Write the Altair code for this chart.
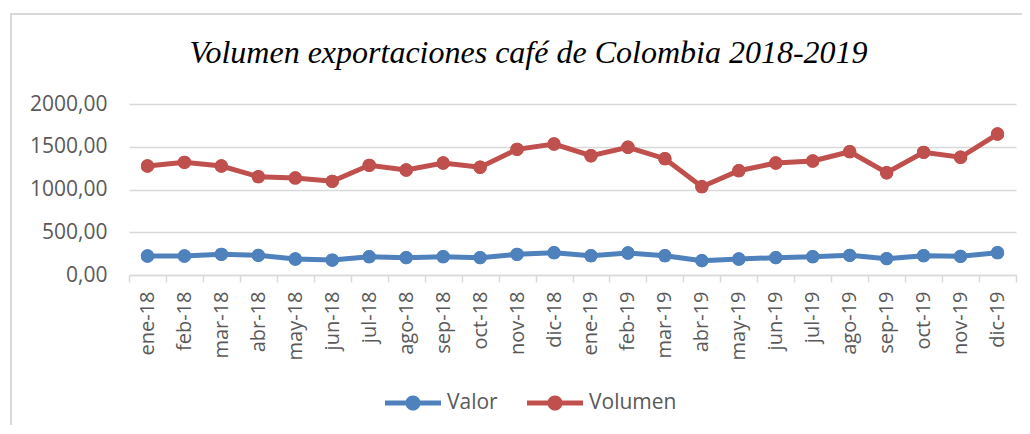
import altair as alt
import pandas as pd

meses = ["ene-18", "feb-18", "mar-18", "abr-18", "may-18", "jun-18", "jul-18", "ago-18",
         "sep-18", "oct-18", "nov-18", "dic-18", "ene-19", "feb-19", "mar-19", "abr-19",
         "may-19", "jun-19", "jul-19", "ago-19", "sep-19", "oct-19", "nov-19", "dic-19"]
valor = [222, 222, 242, 230, 187, 175, 214, 203, 214, 203, 242, 261,
         226, 257, 226, 168, 187, 203, 214, 230, 191, 226, 218, 261]
volumen = [1275, 1318, 1275, 1150, 1135, 1096, 1283, 1228, 1310, 1260, 1470, 1532,
           1395, 1494, 1360, 1033, 1220, 1310, 1333, 1442, 1196, 1435, 1377, 1649]
series = ["Valor", "Volumen"]
colores = ["#4F81BD", "#C0504D"]
y_ticks = [0, 500, 1000, 1500, 2000]
titulo = "Volumen exportaciones café de Colombia 2018-2019"

df = pd.concat([
    pd.DataFrame({"mes": meses, "serie": series[0], "valor": valor}),
    pd.DataFrame({"mes": meses, "serie": series[1], "valor": volumen}),
], ignore_index=True)

FONT = "Open Sans"
GRAY = "#595959"
LINE = "#d9d9d9"

sym_path = ("M-1,-0.09 L1,-0.09 L1,0.09 L-1,0.09 Z "
            "M-0.27,0 A0.27,0.27 0 1,1 0.27,0 A0.27,0.27 0 1,1 -0.27,0 Z")

x_enc = alt.X("mes:N", sort=meses,
              scale=alt.Scale(type="band", paddingInner=0, paddingOuter=0),
              axis=alt.Axis(title=None, labelAngle=-90, tickBand="extent",
                            tickSize=7, tickColor=LINE, tickWidth=1.5,
                            domainColor=LINE, domainWidth=1.5,
                            labelPadding=9, labelFont=FONT, labelFontSize=20,
                            labelColor=GRAY, grid=False))
y_enc = alt.Y("valor:Q", scale=alt.Scale(domain=[0, 2000], nice=False),
              axis=alt.Axis(title=None, values=y_ticks, domain=False, ticks=False,
                            grid=True, gridColor=LINE, gridWidth=1.5,
                            labelPadding=22, labelFont=FONT, labelFontSize=21,
                            labelColor=GRAY,
                            labelExpr="replace(format(datum.value, '.2f'), '.', ',')"))
col_scale = alt.Scale(domain=series, range=colores)
legend = alt.Legend(title=None, orient="none", direction="horizontal",
                    legendX=256, legendY=271, padding=0,
                    symbolType=sym_path, symbolSize=3136,
                    symbolStrokeWidth=0, symbolOpacity=1,
                    labelOffset=6, columnPadding=29,
                    labelFont=FONT, labelFontSize=21, labelColor=GRAY)

frame = alt.Chart(alt.Data(values=[{}])).mark_rect(
    fill="transparent", stroke=LINE, strokeWidth=2
).encode(
    x=alt.value(-118), x2=alt.value(1000), y=alt.value(-90), y2=alt.value(400)
)

points = alt.Chart(df).mark_point(filled=True, size=177, opacity=1).encode(
    x=x_enc, y=y_enc,
    color=alt.Color("serie:N", scale=col_scale, legend=legend),
)

lines = alt.Chart(df).mark_line(strokeWidth=5).encode(
    x=x_enc, y=y_enc,
    color=alt.Color("serie:N", scale=col_scale, legend=legend),
)

chart = alt.layer(frame, points, lines, points).properties(
    width=887, height=171,
    autosize=alt.AutoSizeParams(type="none"),
    padding={"left": 121, "top": 96, "right": 6, "bottom": 150},
    title=alt.TitleParams(titulo, font="Liberation Serif", fontSize=32,
                          fontStyle="italic", fontWeight="normal", color="black",
                          anchor="middle", frame="group", dx=-44, dy=80, offset=23),
).configure_view(stroke=None)

chart.save("out.html", embed_options={"renderer": "svg", "actions": False})
